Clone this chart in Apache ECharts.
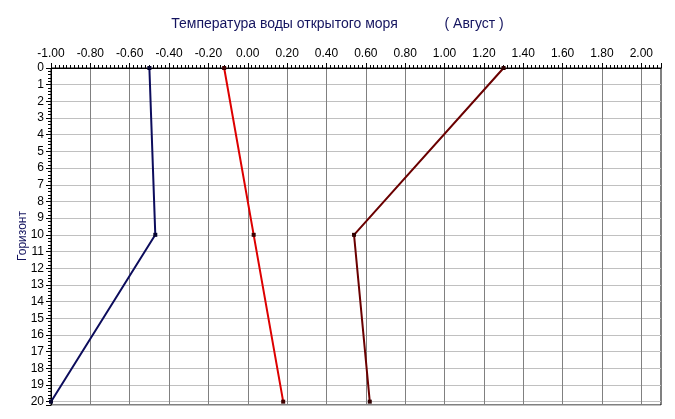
<!DOCTYPE html>
<html>
<head>
<meta charset="utf-8">
<script src="https://cdn.jsdelivr.net/npm/echarts@6/dist/echarts.min.js"></script>
<style>
html,body{margin:0;padding:0;background:#fff;}
#chart{width:675px;height:419px;}
</style>
</head>
<body>
<div id="chart"></div>
<script>
// Data
var depths = [0, 10, 20];
var seriesNames = ['Серия 1', 'Серия 2', 'Серия 3'];
var blueValues = [-0.50, -0.47, -1.00];
var redValues = [-0.12, 0.03, 0.18];
var maroonValues = [1.30, 0.54, 0.62];
var titleText = 'Температура воды открытого моря            ( Август )';
var yAxisTitle = 'Горизонт';

function pairs(vals) {
  return vals.map(function (v, i) { return [v, depths[i]]; });
}

var font = 'Liberation Sans, Arial, sans-serif';
var chart = echarts.init(document.getElementById('chart'), null, {renderer: 'canvas'});

function mkSeries(name, vals, color, markColor) {
  return {
    name: name,
    type: 'line',
    data: pairs(vals),
    xAxisIndex: 0,
    yAxisIndex: 0,
    symbol: 'rect',
    symbolSize: 4,
    showSymbol: true,
    lineStyle: {color: color, width: 2},
    itemStyle: {color: markColor},
    animation: false,
    clip: false,
    z: 3
  };
}

var option = {
  backgroundColor: '#fff',
  animation: false,
  title: {
    text: titleText,
    left: 'center',
    top: 12,
    textStyle: {fontFamily: font, fontSize: 14, fontWeight: 'normal', color: '#14145f'}
  },
  graphic: [{
    type: 'text',
    x: 23,
    y: 236,
    rotation: Math.PI / 2,
    style: {
      text: yAxisTitle,
      fill: '#14145f',
      font: '12px Liberation Sans, Arial, sans-serif',
      align: 'center',
      verticalAlign: 'middle'
    }
  }],
  grid: {
    left: 51, right: 14, top: 68, bottom: 14,
    show: true, borderColor: '#000', borderWidth: 1, backgroundColor: '#fff'
  },
  xAxis: [{
    type: 'value',
    position: 'top',
    min: -1, max: 2.1, interval: 0.2,
    axisLine: {show: true, onZero: false, lineStyle: {color: '#000', width: 1}},
    axisTick: {show: true, length: 5, lineStyle: {color: '#000'}},
    axisLabel: {
      margin: 8, color: '#000', fontFamily: font, fontSize: 12,
      formatter: function (v) {
        if (Math.abs(v * 5 - Math.round(v * 5)) > 1e-6) return '';
        return v.toFixed(2);
      }
    },
    splitLine: {show: true, lineStyle: {color: '#808080', width: 1}}
  }, {
    type: 'value',
    position: 'top',
    min: -1, max: 2.1, interval: 0.02,
    axisLine: {show: false, onZero: false},
    axisTick: {show: true, length: 3, lineStyle: {color: '#000'}},
    axisLabel: {show: false},
    splitLine: {show: false}
  }],
  yAxis: [{
    type: 'value',
    position: 'left',
    inverse: true,
    min: 0, max: 20.2, interval: 1,
    axisLine: {show: true, onZero: false, lineStyle: {color: '#000', width: 1}},
    axisTick: {show: true, length: 5, lineStyle: {color: '#000'}},
    axisLabel: {
      margin: 7, color: '#000', fontFamily: font, fontSize: 12,
      formatter: function (v) {
        if (Math.abs(v - Math.round(v)) > 1e-6) return '';
        return String(Math.round(v));
      }
    },
    splitLine: {show: true, lineStyle: {color: '#c0c0c0', width: 1}}
  }, {
    type: 'value',
    position: 'left',
    inverse: true,
    min: 0, max: 20.2, interval: 0.2,
    axisLine: {show: false, onZero: false},
    axisTick: {show: true, length: 3, lineStyle: {color: '#000'}},
    axisLabel: {show: false},
    splitLine: {show: false}
  }],
  series: [
    mkSeries(seriesNames[0], blueValues, '#0c0c5c', '#050530'),
    mkSeries(seriesNames[1], redValues, '#dd0000', '#400000'),
    mkSeries(seriesNames[2], maroonValues, '#6a0000', '#300000')
  ]
};
chart.setOption(option);
</script>
</body>
</html>
